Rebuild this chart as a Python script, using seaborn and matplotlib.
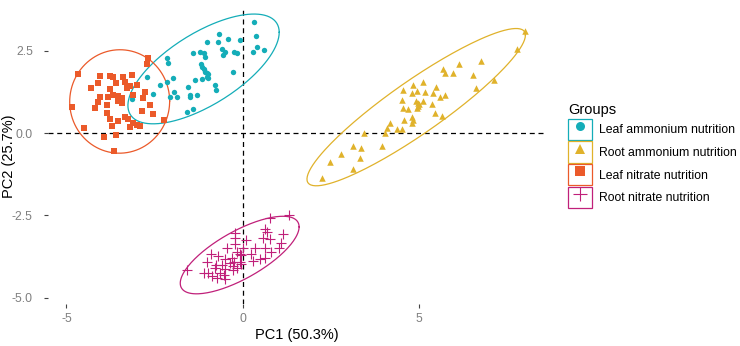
import numpy as np
import pandas as pd
import matplotlib
matplotlib.use("Agg")
import matplotlib.pyplot as plt
import seaborn as sns
from matplotlib.patches import Patch
from matplotlib.lines import Line2D
from matplotlib.legend_handler import HandlerTuple

# PCA scores
leaf_amm_pc1 = [0.32, 0.37, -0.67, -0.42, -1.03, -0.70, -0.08, 0.41, 0.29, 0.59, -0.60, -0.51, -0.56, -0.25,
                -0.18, -1.41, -1.22, -1.10, -1.06, -2.16, -2.13, -1.19, -1.15, -1.08, -0.98, -1.03, -0.27, -1.99,
                -1.36, -1.15, -0.98, -2.16, -2.35, -0.79, -1.55, -0.75, -1.95, -2.54, -2.07, -1.88, -1.50, -1.31,
                -1.50, -2.73, -3.15, -1.59, -1.41, -1.10, -1.02]
leaf_amm_pc2 = [3.36, 2.95, 3.01, 2.85, 2.78, 2.76, 2.83, 2.60, 2.47, 2.52, 2.54, 2.47, 2.37, 2.47,
                2.42, 2.42, 2.47, 2.44, 2.32, 2.27, 2.12, 2.10, 2.00, 1.86, 1.79, 1.71, 1.85, 1.66,
                1.61, 1.63, 1.66, 1.56, 1.46, 1.46, 1.39, 1.31, 1.26, 1.19, 1.10, 1.09, 1.16, 1.16,
                1.09, 1.71, 1.02, 0.65, 0.72, 1.95, 1.82]

root_amm_pc1 = [7.99, 7.77, 6.76, 6.12, 5.66, 5.72, 5.96, 6.51, 7.12, 6.60, 4.81, 5.09, 5.47, 4.54, 4.78,
                4.92, 5.16, 5.39, 5.58, 5.72, 4.52, 4.90, 4.97, 5.11, 4.92, 4.54, 4.68, 5.35, 5.44, 4.78,
                5.63, 3.44, 4.02, 4.07, 4.18, 4.37, 4.50, 4.56, 4.78, 4.82, 3.93, 3.12, 3.36, 2.77, 3.31,
                2.48, 3.11, 2.23, 4.96, 4.99]
root_amm_pc2 = [3.10, 2.54, 2.20, 2.10, 1.94, 1.83, 1.81, 1.76, 1.61, 1.36, 1.46, 1.56, 1.39, 1.31, 1.22,
                1.29, 1.26, 1.22, 1.09, 1.16, 1.00, 0.98, 0.90, 0.98, 0.75, 0.75, 0.72, 0.88, 0.62, 0.50,
                0.52, 0.01, 0.01, 0.14, 0.31, 0.11, 0.11, 0.40, 0.29, 0.40, -0.40, -0.40, -0.47, -0.64, -0.77,
                -0.87, -1.09, -1.36, 0.82, 0.88]

leaf_nit_pc1 = [-2.70, -2.73, -4.67, -4.05, -3.77, -3.67, -3.39, -3.15, -4.10, -3.60, -3.34, -3.20, -3.01,
                -4.31, -3.77, -3.29, -2.78, -3.11, -4.05, -3.82, -3.67, -3.53, -3.48, -3.44, -3.54, -3.43,
                -4.12, -2.82, -4.84, -4.19, -3.86, -2.63, -2.87, -3.86, -2.54, -3.77, -3.53, -3.34, -3.25,
                -3.11, -3.01, -2.92, -3.20, -3.72, -4.50, -2.24, -3.93, -3.60, -3.65]
leaf_nit_pc2 = [2.27, 2.10, 1.79, 1.73, 1.73, 1.71, 1.71, 1.76, 1.53, 1.51, 1.56, 1.43, 1.46,
                1.38, 1.33, 1.36, 1.24, 1.16, 1.09, 1.10, 1.16, 1.12, 1.00, 0.92, 0.97, 1.06,
                0.95, 1.05, 0.80, 0.75, 0.85, 0.85, 0.67, 0.62, 0.58, 0.42, 0.36, 0.50, 0.42,
                0.29, 0.24, 0.21, 0.19, 0.21, 0.14, 0.40, -0.11, -0.06, -0.54]

root_nit_pc1 = [0.76, 1.30, 0.64, 0.67, 1.14, -0.23, -0.21, 0.58, 0.76, 1.08, 1.02, 0.08, 0.64, 0.81,
                0.34, 0.01, -0.23, -0.46, -0.18, 0.23, -0.04, 0.48, 0.62, 0.29, -0.89, -0.70, -0.51,
                -0.32, -0.25, -0.08, -0.04, -0.27, -0.18, -0.37, -1.03, -0.76, -0.79, -0.60, -0.51,
                -0.27, -0.65, -0.98, -0.87, -1.10, -0.72, -0.53, -1.57, -0.51, -0.08]
root_nit_pc2 = [-2.57, -2.49, -2.92, -3.00, -3.08, -3.05, -3.20, -3.18, -3.22, -3.35, -3.49, -3.25, -3.50, -3.61,
                -3.50, -3.49, -3.38, -3.50, -3.61, -3.69, -3.71, -3.83, -3.79, -3.89, -3.69, -3.73, -3.83,
                -3.81, -3.91, -3.91, -3.99, -4.03, -4.09, -3.96, -3.93, -4.01, -4.09, -4.01, -4.13,
                -4.16, -4.26, -4.26, -4.34, -4.26, -4.40, -4.32, -4.16, -4.44, -3.69]

groups = ["Leaf ammonium nutrition", "Root ammonium nutrition", "Leaf nitrate nutrition", "Root nitrate nutrition"]
colors = ["#14ADB8", "#E0B22B", "#EB5A2A", "#C0207A"]
markers = ["o", "^", "s", "+"]

frames = []
for g, xs, ys in zip(groups,
                     [leaf_amm_pc1, root_amm_pc1, leaf_nit_pc1, root_nit_pc1],
                     [leaf_amm_pc2, root_amm_pc2, leaf_nit_pc2, root_nit_pc2]):
    frames.append(pd.DataFrame({"PC1": xs, "PC2": ys, "Group": g}))
df = pd.concat(frames, ignore_index=True)

plt.rcParams["font.family"] = ["Liberation Sans", "DejaVu Sans"]
plt.rcParams["axes.unicode_minus"] = False

fig = plt.figure(figsize=(7.4, 3.46), dpi=100)
ax = fig.add_axes([0.065, 0.121, 0.671, 0.856])

ax.axhline(0, color="black", ls=(0, (4, 3)), lw=0.9, zorder=1)
ax.axvline(0, color="black", ls=(0, (4, 3)), lw=0.9, zorder=1)

sizes = {"o": 15, "^": 22, "s": 18, "+": 45}
t = np.linspace(0, 2 * np.pi, 200)
for g, c, m in zip(groups, colors, markers):
    sub = df[df["Group"] == g]
    sns.scatterplot(data=sub, x="PC1", y="PC2", color=c, marker=m, s=sizes[m],
                    linewidth=0.8 if m == "+" else 0, ax=ax, zorder=3, legend=False)
    # 95% confidence ellipse like stat_ellipse
    pts = sub[["PC1", "PC2"]].to_numpy()
    center = pts.mean(axis=0)
    cov = np.cov(pts.T)
    radius = 2.53
    L = np.linalg.cholesky(cov)
    circle = np.vstack([np.cos(t), np.sin(t)])
    ell = (L @ circle).T * radius + center
    ax.plot(ell[:, 0], ell[:, 1], color=c, lw=0.9, zorder=2)

ax.set_xlim(-5.52, 8.55)
ax.set_ylim(-5.2, 3.8)
ax.set_xticks([-5, 0, 5])
ax.set_xticklabels(["-5", "0", "5"])
ax.set_yticks([-5.0, -2.5, 0.0, 2.5])
ax.set_yticklabels(["-5.0", "-2.5", "0.0", "2.5"])
ax.tick_params(length=3, width=0.8, color="#444444", labelcolor="#7f7f7f", labelsize=8.8)
ax.tick_params(axis="y", pad=8)
for sp in ax.spines.values():
    sp.set_visible(False)
ax.set_xlabel("PC1 (50.3%)", fontsize=10.5, labelpad=2)
ax.set_ylabel("PC2 (25.7%)", fontsize=10.5, va="center")
ax.yaxis.set_label_coords(-0.079, 0.5)

handles = [(Patch(facecolor="white", edgecolor=c, lw=0.9),
            Line2D([], [], marker=m, color=c, ls="none", markersize=6.5 if m != "+" else 10,
                   markeredgewidth=0.8 if m == "+" else 0))
           for c, m in zip(colors, markers)]
leg = fig.legend(handles, groups, loc="upper left", bbox_to_anchor=(0.761, 0.716),
                 title="Groups", frameon=False, fontsize=8.8, title_fontsize=10.5,
                 handler_map={tuple: HandlerTuple(ndivide=1)},
                 handlelength=1.95, handleheight=2.3, labelspacing=0.12, handletextpad=0.6,
                 borderaxespad=0)
leg._legend_box.align = "left"

fig.savefig("out.png", dpi=100, facecolor="white")
